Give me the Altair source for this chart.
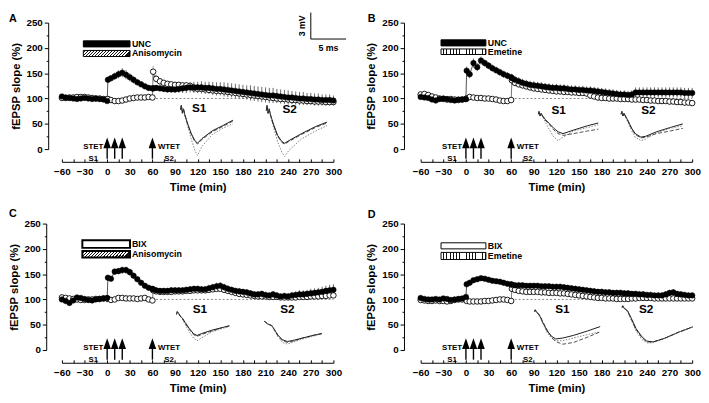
import altair as alt
import pandas as pd

FONT = "Liberation Sans"

# ---------------- time points (min) ----------------
T = [-60, -55, -50, -45, -40, -35, -30, -25, -20, -15, -10, -5, 0,
     1, 5, 10, 15, 20, 25, 30, 35, 40, 45, 50, 55, 60,
     61, 65, 70, 75, 80, 85, 90, 95, 100, 105, 110, 115, 120, 125, 130, 135, 140,
     145, 150, 155, 160, 165, 170, 175, 180, 185, 190, 195, 200, 205, 210, 215,
     220, 225, 230, 235, 240, 245, 250, 255, 260, 265, 270, 275, 280, 285, 290,
     295, 300]

# ---------------- Panel A: UNC (S1, filled) / Anisomycin (S2, open) ----------------
A_F = [104, 102, 101, 100, 99, 100, 101, 100, 99, 100, 99, 98, 95,
       137, 140, 144, 148, 151, 147, 142, 137, 132, 128, 124, 121, 120,
       120, 121, 120, 119, 118, 118, 118, 119, 120, 121, 122,
       122, 122, 122, 121, 121, 120, 119, 119, 118, 117,
       116, 115, 114, 113, 112, 111, 110, 109, 108, 107,
       106, 106, 105, 104, 103, 102, 102, 101, 100, 100,
       99, 99, 98, 98, 97, 97, 97, 96]
A_FE = [4, 3, 3, 3, 3, 3, 3, 3, 3, 3, 3, 3, 4,
        6, 6, 7, 8, 9, 9, 8, 7, 6, 6, 5, 5, 5,
        6, 5, 5, 5, 6, 6, 7, 8, 9, 10, 10,
        11, 11, 12, 12, 12, 13, 13, 13, 14, 14,
        14, 14, 14, 14, 14, 15, 15, 15, 15, 15,
        15, 15, 14, 14, 14, 14, 13, 13, 13, 13,
        12, 12, 12, 12, 11, 11, 11, 10]
A_O = [101, 101, 102, 102, 103, 103, 103, 102, 101, 100, 100, 99, 99,
       99, 97, 95, 95, 96, 98, 100, 101, 102, 102, 102, 103, 102,
       153, 139, 134, 131, 129, 128, 127, 127, 126, 126, 125,
       120, 119, 119, 118, 117, 116, 115, 115, 114, 113,
       112, 111, 110, 109, 108, 107, 106, 105, 104, 103,
       102, 101, 100, 99, 99, 98, 97, 97, 96, 96,
       95, 95, 94, 94, 94, 93, 93, 93]
A_OE = [3, 3, 3, 3, 3, 3, 3, 3, 3, 3, 3, 3, 3,
        3, 3, 3, 3, 3, 3, 3, 3, 3, 3, 3, 3, 3,
        12, 8, 6, 5, 5, 5, 5, 5, 5, 5, 5,
        5, 5, 5, 5, 6, 6, 6, 6, 6, 6,
        6, 6, 6, 6, 6, 6, 6, 6, 6, 6,
        6, 6, 6, 6, 6, 6, 6, 6, 6, 6,
        6, 6, 6, 6, 6, 6, 6, 6]

# ---------------- Panel B: UNC (S1) / Emetine (S2) ----------------
B_F = [103, 102, 101, 98, 96, 99, 100, 99, 97, 96, 98, 98, 99,
       155, 148, 170, 162, 175, 170, 165, 160, 156, 152, 148, 145, 142,
       140, 137, 134, 131, 129, 127, 126, 125, 124, 123, 122,
       121, 121, 120, 120, 119, 118, 118, 117, 117, 116,
       116, 115, 114, 113, 112, 111, 110, 109, 108, 108,
       107, 108, 112, 112, 112, 112, 112, 112, 112, 112,
       112, 112, 112, 112, 112, 111, 111, 111]
B_FE = [4, 4, 3, 3, 3, 3, 3, 3, 3, 3, 3, 3, 3,
        8, 8, 9, 8, 8, 7, 7, 7, 7, 7, 7, 7, 7,
        8, 8, 8, 8, 8, 8, 8, 8, 8, 8, 8,
        8, 8, 8, 8, 8, 8, 8, 8, 8, 8,
        8, 8, 8, 8, 8, 8, 8, 8, 8, 8,
        8, 8, 10, 10, 10, 10, 10, 10, 10, 10,
        10, 10, 10, 10, 10, 10, 10, 10]
B_O = [108, 109, 107, 104, 102, 100, 99, 98, 99, 98, 97, 98, 99,
       100, 103, 102, 101, 101, 100, 100, 99, 98, 96, 95, 95, 97,
       136, 131, 128, 126, 124, 122, 120, 119, 118, 117, 116,
       115, 114, 114, 113, 113, 112, 112, 111, 111, 110,
       106, 104, 102, 101, 101, 100, 100, 100, 99, 99,
       99, 98, 98, 98, 97, 97, 96, 96, 95, 95,
       95, 94, 94, 93, 93, 92, 92, 91]
B_OE = [4, 4, 3, 3, 3, 3, 3, 3, 3, 3, 3, 3, 3,
        3, 3, 3, 3, 3, 3, 3, 3, 3, 3, 3, 3, 3,
        10, 7, 6, 6, 6, 6, 6, 6, 6, 6, 6,
        6, 6, 6, 6, 6, 6, 6, 6, 6, 6,
        6, 6, 6, 6, 6, 6, 6, 6, 6, 6,
        6, 6, 6, 6, 6, 6, 6, 6, 6, 6,
        6, 6, 6, 6, 6, 6, 6, 6]

# ---------------- Panel C: BIX (S1) / Anisomycin (S2) ----------------
C_F = [100, 97, 93, 98, 104, 103, 101, 99, 98, 100, 101, 102, 103,
       143, 141, 155, 156, 158, 158, 154, 147, 140, 133, 127, 123, 121,
       120, 118, 117, 117, 117, 118, 118, 118, 118, 119, 120,
       121, 121, 120, 120, 122, 124, 126, 127, 124, 121,
       119, 117, 116, 115, 114, 112, 110, 110, 111, 109,
       108, 110, 108, 106, 107, 106, 108, 109, 110, 110,
       111, 112, 113, 114, 115, 117, 118, 119]
C_FE = [4, 4, 4, 3, 3, 3, 3, 3, 3, 3, 3, 3, 3,
        5, 5, 6, 6, 7, 7, 7, 6, 6, 5, 5, 5, 5,
        5, 5, 5, 5, 5, 6, 6, 6, 6, 6, 6,
        6, 6, 6, 6, 7, 7, 7, 7, 7, 7,
        6, 6, 6, 6, 6, 6, 6, 6, 6, 6,
        6, 6, 6, 6, 6, 7, 7, 7, 8, 8,
        8, 9, 9, 9, 10, 10, 11, 11]
C_O = [104, 103, 102, 101, 100, 99, 99, 100, 100, 101, 101, 102, 102,
       101, 99, 100, 103, 103, 102, 102, 102, 101, 102, 103, 100, 98,
       118, 116, 115, 115, 115, 115, 116, 116, 116, 117, 117,
       118, 118, 118, 118, 119, 120, 121, 121, 119, 117,
       115, 113, 111, 110, 109, 108, 107, 106, 106, 106,
       105, 105, 105, 104, 104, 104, 104, 104, 105, 105,
       105, 106, 106, 106, 107, 107, 108, 108]
C_OE = [3, 3, 3, 3, 3, 3, 3, 3, 3, 3, 3, 3, 3,
        3, 3, 3, 3, 3, 3, 3, 3, 3, 3, 3, 3, 3,
        5, 4, 4, 4, 4, 4, 4, 4, 4, 4, 4,
        4, 4, 4, 4, 4, 4, 4, 4, 4, 4,
        4, 4, 4, 4, 4, 4, 4, 4, 4, 4,
        4, 4, 4, 4, 4, 4, 4, 4, 4, 4,
        4, 4, 4, 4, 4, 4, 4, 4]

# ---------------- Panel D: BIX (S1) / Emetine (S2) ----------------
D_F = [103, 101, 100, 100, 101, 100, 102, 101, 99, 100, 101, 102, 105,
       130, 133, 138, 140, 142, 141, 139, 137, 136, 135, 133, 131, 130,
       129, 128, 128, 128, 127, 127, 127, 127, 126, 126, 126,
       125, 125, 125, 124, 123, 122, 121, 120, 119, 118,
       117, 116, 115, 115, 114, 114, 113, 113, 113, 112,
       112, 111, 111, 110, 110, 109, 109, 108, 108, 108,
       110, 113, 114, 111, 110, 109, 108, 108]
D_FE = [3, 3, 3, 3, 3, 3, 3, 3, 3, 3, 3, 3, 3,
        4, 4, 5, 5, 5, 5, 5, 5, 5, 5, 5, 5, 5,
        5, 5, 5, 5, 5, 5, 5, 5, 5, 5, 5,
        6, 6, 6, 6, 6, 6, 6, 6, 6, 6,
        6, 6, 6, 6, 6, 6, 6, 6, 6, 6,
        6, 6, 6, 6, 6, 6, 6, 6, 6, 6,
        6, 6, 6, 6, 6, 6, 6, 6]
D_O = [99, 98, 97, 97, 98, 97, 97, 96, 97, 99, 100, 100, 101,
       97, 96, 96, 96, 96, 97, 97, 98, 99, 100, 100, 99, 97,
       121, 119, 117, 116, 115, 115, 115, 115, 114, 114, 113,
       113, 113, 112, 112, 111, 110, 109, 108, 107, 106,
       105, 104, 103, 103, 102, 102, 102, 101, 101, 101,
       101, 102, 102, 103, 103, 103, 103, 102, 102, 102,
       102, 102, 102, 102, 102, 102, 102, 102]
D_OE = [3, 3, 3, 3, 3, 3, 3, 3, 3, 3, 3, 3, 3,
        3, 3, 3, 3, 3, 3, 3, 3, 3, 3, 3, 3, 3,
        5, 4, 4, 4, 4, 4, 4, 4, 4, 4, 4,
        4, 4, 4, 4, 4, 4, 4, 4, 4, 4,
        4, 4, 4, 4, 4, 4, 4, 4, 4, 4,
        4, 4, 4, 4, 4, 4, 4, 4, 4, 4,
        4, 4, 4, 4, 4, 4, 4, 4]

# ---------------- sample fEPSP traces (ms, mV) ----------------
A_S1_MS = [0, 0.1, 0.25, 0.4, 0.6, 1.0, 1.5, 2.0, 2.4, 3.0, 4.5, 6.0, 7.4]
A_S1 = {"solid": [0, 0.5, -0.4, 0.1, -0.6, -1.6, -2.7, -3.5, -3.8, -3.3, -2.4, -1.8, -1.2],
        "dot":   [0, 0.5, -0.4, 0.1, -0.7, -1.9, -3.3, -4.6, -5.2, -4.2, -2.8, -2.1, -1.6],
        "dash":  [0, 0.5, -0.4, 0.1, -0.6, -1.7, -2.8, -3.6, -3.9, -3.4, -2.5, -1.9, -1.3]}
A_S2_MS = [0, 0.1, 0.25, 0.4, 0.6, 1.0, 1.6, 2.2, 2.6, 3.2, 5.0, 7.0, 8.6]
A_S2 = {"solid": [0, 0.6, -0.3, 0.2, -0.5, -1.5, -2.8, -3.5, -3.7, -3.4, -2.6, -1.8, -1.3],
        "dot":   [0, 0.6, -0.3, 0.2, -0.6, -1.8, -3.5, -4.7, -5.2, -4.5, -3.2, -2.3, -1.7],
        "dash":  [0, 0.6, -0.3, 0.2, -0.5, -1.6, -2.9, -3.6, -3.8, -3.5, -2.7, -1.9, -1.4]}
B_S1_MS = [0, 0.1, 0.25, 0.4, 0.6, 1.0, 1.6, 2.2, 2.8, 3.5, 5.0, 7.0, 8.5]
B_S1 = {"solid": [0, 0.3, -0.2, 0.1, -0.2, -0.6, -1.1, -1.6, -2.0, -2.2, -1.8, -1.3, -1.0],
        "dot":   [0, 0.3, -0.2, 0.1, -0.3, -0.9, -1.8, -2.6, -3.0, -2.6, -1.9, -1.5, -1.2],
        "dash":  [0, 0.3, -0.2, 0.1, -0.2, -0.7, -1.2, -1.8, -2.2, -2.4, -2.2, -1.9, -1.7]}
B_S2_MS = [0, 0.1, 0.25, 0.4, 0.6, 1.0, 1.5, 2.0, 2.8, 3.5, 5.0, 7.0, 8.75]
B_S2 = {"solid": [0, 0.3, -0.2, 0.1, -0.2, -0.8, -1.6, -2.2, -2.6, -2.5, -2.0, -1.5, -1.1],
        "dot":   [0, 0.3, -0.2, 0.1, -0.3, -1.0, -1.9, -2.6, -3.0, -2.8, -2.1, -1.6, -1.3],
        "dash":  [0, 0.3, -0.2, 0.1, -0.2, -0.8, -1.7, -2.3, -2.7, -2.6, -2.2, -1.9, -1.6]}
C_S1_MS = [0, 0.1, 0.3, 0.5, 0.8, 1.2, 1.8, 2.4, 2.9, 3.5, 5.0, 6.5, 7.5]
C_S1 = {"solid": [0, 0.3, 0.1, -0.2, -0.4, -0.9, -1.6, -2.2, -2.4, -2.2, -1.8, -1.5, -1.3],
        "dot":   [0, 0.3, 0.1, -0.2, -0.5, -1.1, -2.0, -2.7, -3.0, -2.7, -2.0, -1.6, -1.4],
        "dash":  [0, 0.3, 0.1, -0.2, -0.4, -1.0, -1.7, -2.3, -2.5, -2.3, -1.9, -1.5, -1.3]}
C_S2_MS = [0, 0.2, 0.5, 0.8, 1.1, 1.5, 2.0, 2.6, 3.3, 4.0, 5.5, 7.0, 8.2]
C_S2 = {"solid": [0, -0.1, -0.3, -0.4, -0.5, -1.0, -1.6, -2.1, -2.3, -2.2, -1.9, -1.6, -1.4],
        "dot":   [0, -0.1, -0.3, -0.4, -0.5, -1.1, -1.8, -2.4, -2.6, -2.4, -2.0, -1.7, -1.4],
        "dash":  [0, -0.1, -0.3, -0.4, -0.5, -1.0, -1.7, -2.2, -2.4, -2.3, -1.9, -1.6, -1.4]}
D_S1_MS = [0, 0.1, 0.3, 0.5, 0.8, 1.2, 1.8, 2.4, 3.0, 4.0, 5.5, 7.5, 9.3]
D_S1 = {"solid": [0, 0.2, -0.1, -0.2, -0.6, -1.3, -2.2, -2.8, -3.1, -3.0, -2.7, -2.2, -1.7],
        "dot":   [0, 0.2, -0.1, -0.2, -0.6, -1.4, -2.4, -3.0, -3.3, -3.3, -3.0, -2.6, -2.3],
        "dash":  [0, 0.2, -0.1, -0.2, -0.5, -1.2, -2.1, -2.9, -3.4, -3.7, -3.5, -2.9, -2.3]}
D_S2_MS = [0, 0.1, 0.3, 0.5, 0.8, 1.3, 2.0, 2.8, 3.5, 4.4, 6.0, 8.0, 10.0]
D_S2 = {"solid": [0, 0.2, -0.1, -0.2, -0.4, -1.2, -2.4, -3.3, -3.8, -3.9, -3.5, -2.8, -2.2],
        "dot":   [0, 0.2, -0.1, -0.2, -0.5, -1.4, -2.7, -3.6, -4.0, -4.0, -3.5, -2.8, -2.2],
        "dash":  [0, 0.2, -0.1, -0.2, -0.4, -1.3, -2.5, -3.4, -3.9, -3.9, -3.5, -2.8, -2.2]}

STET_T = [0, 10, 20]
WTET_T = [60]

# ---------------- layout constants ----------------
W, H = 277, 129
XPX = W / 360.0
YPX = H / 250.0
MIN_PER_MS = 7.2 / XPX
PCT_PER_MV = 9.0 / YPX


def stripes(n, frac, x2, y2):
    stops = []
    for i in range(n):
        a = i / n
        b = (i + frac) / n
        c = (i + 1) / n
        stops += [{"offset": a, "color": "white"}, {"offset": b, "color": "white"},
                  {"offset": b, "color": "#111"}, {"offset": c, "color": "#111"}]
    return {"gradient": "linear", "x1": 0, "y1": 0, "x2": x2, "y2": y2, "stops": stops}


VSTRIPE = stripes(14, 0.7, 1, 0)
DHATCH = stripes(16, 0.6, 1, 0.125)

TRACE_STYLE = {
    "solid": dict(color="black", strokeWidth=0.9),
    "dot": dict(color="#777", strokeWidth=0.9, strokeDash=[1.5, 1.5]),
    "dash": dict(color="#222", strokeWidth=0.8, strokeDash=[4, 2]),
}


def panel(letter, letter_y, F, FE, O, OE, yoff, legend, traces, labels, scalebar=False):
    xs = alt.Scale(domain=[-60, 300], nice=False, zero=False)
    ys = alt.Scale(domain=[0, 250], nice=False, zero=False)
    xaxis = alt.Axis(values=list(range(-60, 301, 15)),
                     labelExpr="datum.value % 30 === 0 ? datum.label : ''",
                     labelOverlap=False, labelFlush=False,
                     offset=13, tickSize={"expr": "-3"}, labelPadding=8,
                     title="Time (min)", titlePadding=5, grid=False)
    yaxis = alt.Axis(values=list(range(0, 251, 25)),
                     labelExpr="datum.value % 50 === 0 ? datum.label : ''",
                     labelOverlap=False, labelFlush=False,
                     offset=yoff,
                     tickSize={"condition": {"test": "datum.value % 50 === 0", "value": 4}, "value": 2},
                     labelPadding=2, title="fEPSP slope (%)", titlePadding=5, grid=False)

    def X(f):
        return alt.X(f + ":Q", scale=xs, axis=xaxis)

    def Y(f):
        return alt.Y(f + ":Q", scale=ys, axis=yaxis)

    df = pd.DataFrame({
        "t": T, "f": F, "o": O,
        "flo": [a - b for a, b in zip(F, FE)], "fhi": [a + b for a, b in zip(F, FE)],
        "olo": [a - b for a, b in zip(O, OE)], "ohi": [a + b for a, b in zip(O, OE)],
    })
    layers = []
    layers.append(alt.Chart(pd.DataFrame({"t": [-60], "t2": [300], "v": [100]}))
                  .mark_rule(color="#666", strokeDash=[2, 2], strokeWidth=0.8)
                  .encode(x=X("t"), x2="t2:Q", y=Y("v")))
    layers.append(alt.Chart(df).mark_rule(color="#999", strokeWidth=0.8)
                  .encode(x=X("t"), y=Y("olo"), y2="ohi:Q"))
    layers.append(alt.Chart(df).mark_rule(color="#444", strokeWidth=0.8)
                  .encode(x=X("t"), y=Y("flo"), y2="fhi:Q"))
    layers.append(alt.Chart(df).mark_line(color="#555", strokeWidth=0.8)
                  .encode(x=X("t"), y=Y("o")))
    layers.append(alt.Chart(df).mark_line(color="#222", strokeWidth=0.8)
                  .encode(x=X("t"), y=Y("f")))
    layers.append(alt.Chart(df).mark_circle(size=32, fill="white", stroke="black",
                                             strokeWidth=0.9, opacity=1)
                  .encode(x=X("t"), y=Y("o")))
    layers.append(alt.Chart(df).mark_circle(size=32, fill="black", stroke="black",
                                             strokeWidth=0.5, opacity=1)
                  .encode(x=X("t"), y=Y("f")))

    # drug bars (legend)
    for box in legend:
        layers.append(alt.Chart(pd.DataFrame({"t": [box["t"]], "t2": [box["t2"]],
                                              "v": [box["v"]], "v2": [box["v2"]]}))
                      .mark_rect(fill=box["fill"], stroke="black", strokeWidth=box["sw"])
                      .encode(x=X("t"), x2="t2:Q", y=Y("v"), y2="v2:Q"))
        layers.append(alt.Chart(pd.DataFrame({"t": [box["t2"] + 2.5],
                                              "v": [(box["v"] + box["v2"]) / 2],
                                              "s": [box["label"]]}))
                      .mark_text(align="left", baseline="middle", font=FONT,
                                 fontWeight="bold", fontSize=9, color="black")
                      .encode(x=X("t"), y=Y("v"), text="s:N"))

    # tetanization arrows
    arr = pd.DataFrame({"t": STET_T + WTET_T})
    arr["v"] = -19
    arr["v2"] = 5
    arr["vh"] = 12.5
    layers.append(alt.Chart(arr).mark_rule(color="black", strokeWidth=1.4)
                  .encode(x=X("t"), y=Y("v"), y2="v2:Q"))
    layers.append(alt.Chart(arr).mark_point(shape="M0,-1L0.7,1L-0.7,1Z", filled=True,
                                            size=121, color="black", opacity=1)
                  .encode(x=X("t"), y=Y("vh")))
    lab = pd.DataFrame({"t": [-18.5, -18.5, 82, 82], "v": [4, -19, 4, -19],
                        "s": ["STET", "S1", "WTET", "S2"]})
    layers.append(alt.Chart(lab).mark_text(font=FONT, fontWeight="bold", fontSize=8,
                                           color="black", baseline="middle")
                  .encode(x=X("t"), y=Y("v"), text="s:N"))

    # sample traces
    for (t0, v0, ms, mvs) in traces:
        for style, mv in mvs.items():
            tdf = pd.DataFrame({"t": [t0 + m * MIN_PER_MS for m in ms],
                                "v": [v0 + y * PCT_PER_MV for y in mv]})
            layers.append(alt.Chart(tdf).mark_line(**TRACE_STYLE[style])
                          .encode(x=X("t"), y=Y("v")))
    ldf = pd.DataFrame({"t": [l[0] for l in labels], "v": [l[1] for l in labels],
                        "s": ["S1", "S2"]})
    layers.append(alt.Chart(ldf).mark_text(font=FONT, fontWeight="bold", fontSize=12,
                                           color="black", baseline="middle")
                  .encode(x=X("t"), y=Y("v"), text="s:N"))

    if scalebar:
        c_t, c_v = 270, 217.6
        sb = pd.DataFrame({"t": [c_t, c_t], "t2": [c_t, c_t + 5 * MIN_PER_MS],
                           "v": [c_v, c_v], "v2": [c_v + 3 * PCT_PER_MV, c_v]})
        layers.append(alt.Chart(sb).mark_rule(color="black", strokeWidth=1)
                      .encode(x=X("t"), x2="t2:Q", y=Y("v"), y2="v2:Q"))
        layers.append(alt.Chart(pd.DataFrame({"t": [c_t - 11], "v": [c_v + 1.5 * PCT_PER_MV],
                                              "s": ["3 mV"]}))
                      .mark_text(font=FONT, fontWeight="bold", fontSize=9, angle=270,
                                 baseline="middle", color="black")
                      .encode(x=X("t"), y=Y("v"), text="s:N"))
        layers.append(alt.Chart(pd.DataFrame({"t": [c_t + 2.5 * MIN_PER_MS], "v": [c_v - 17],
                                              "s": ["5 ms"]}))
                      .mark_text(font=FONT, fontWeight="bold", fontSize=9,
                                 baseline="middle", color="black")
                      .encode(x=X("t"), y=Y("v"), text="s:N"))

    layers.append(alt.Chart(pd.DataFrame({"s": [letter]}))
                  .mark_text(font=FONT, fontWeight="bold", fontSize=11, align="left",
                             baseline="top", color="black")
                  .encode(x=alt.value(-54), y=alt.value(letter_y), text="s:N"))
    return alt.layer(*layers).properties(width=W, height=H)


pa = panel("A", -10, A_F, A_FE, A_O, A_OE, 14,
           [dict(t=-31.6, t2=30.3, v=202, v2=214, fill="black", sw=1, label="UNC"),
            dict(t=-31.6, t2=30.3, v=183, v2=195, fill=DHATCH, sw=1, label="Anisomycin")],
           [(97.4, 78, A_S1_MS, A_S1), (211, 76, A_S2_MS, A_S2)],
           [(122, 82), (242, 80)], scalebar=True)
pb = panel("B", -10, B_F, B_FE, B_O, B_OE, 17,
           [dict(t=-33, t2=26.5, v=204, v2=216, fill="black", sw=1, label="UNC"),
            dict(t=-33, t2=26.5, v=187, v2=198, fill=VSTRIPE, sw=1, label="Emetine")],
           [(96, 69, B_S1_MS, B_S1), (205.8, 69, B_S2_MS, B_S2)],
           [(123, 78), (242, 78)])
pc = panel("C", -16, C_F, C_FE, C_O, C_OE, 16,
           [dict(t=-32.9, t2=30.3, v=202, v2=217, fill="white", sw=2, label="BIX"),
            dict(t=-32.9, t2=30.3, v=183, v2=196, fill=DHATCH, sw=2, label="Anisomycin")],
           [(92, 70.6, C_S1_MS, C_S1), (208, 57, C_S2_MS, C_S2)],
           [(123, 80), (239, 80)])
pd_ = panel("D", -15, D_F, D_FE, D_O, D_OE, 17,
            [dict(t=-33, t2=26.5, v=200, v2=212, fill="white", sw=1, label="BIX"),
             dict(t=-33, t2=26.5, v=179, v2=193, fill=VSTRIPE, sw=1, label="Emetine")],
            [(91, 76, D_S1_MS, D_S1), (207, 84, D_S2_MS, D_S2)],
            [(128, 80), (239, 80)])

chart = alt.concat(pa, pb, pc, pd_, columns=2, spacing={"row": 76, "column": 89},
                   bounds="flush").properties(
    padding={"left": 0, "top": 0, "right": 0, "bottom": 0}).configure_view(
    stroke=None).configure_axis(
    labelFont=FONT, labelFontWeight="bold", labelFontSize=10, labelColor="black",
    titleFont=FONT, titleFontWeight="bold", titleFontSize=11.5, titleColor="black",
    domainColor="black", tickColor="black", domainWidth=1, tickWidth=1)

chart.save("out.html", embed_options={"renderer": "svg", "actions": False})
